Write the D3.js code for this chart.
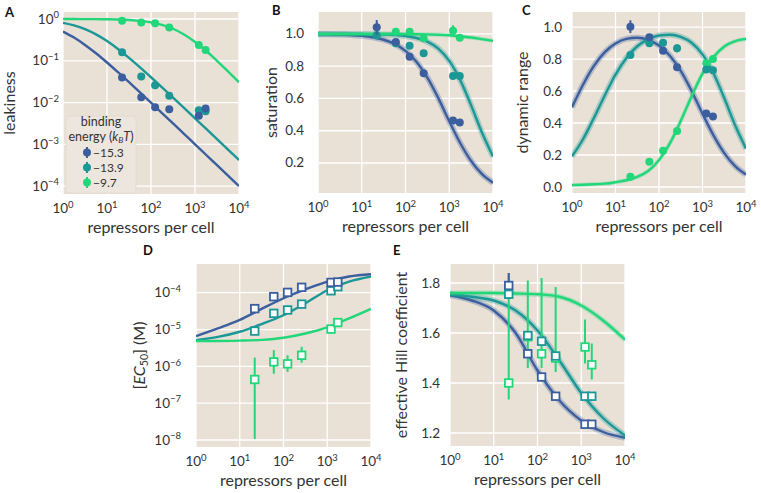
<!DOCTYPE html>
<html>
<head>
<meta charset="utf-8">
<script src="https://cdn.jsdelivr.net/npm/d3@7"></script>
<style>
body { margin: 0; background: #fff; }
text { font-family: Lato, "Open Sans", sans-serif; fill: #333; }
</style>
</head>
<body>
<svg id="fig" width="761" height="493"></svg>
<script>
// measured repressor copy numbers and binding energies
var repressors = [22, 60, 124, 260, 1220, 1740];
var energies = ["\u221215.3", "\u221213.9", "\u22129.7"];
var seriesColors = ["#3b5f9e", "#1b9896", "#22d67a"];

// x grid (log10 repressors) for the theory curves
var fineLogR = [0, 0.25, 0.5, 0.75, 1, 1.25, 1.5, 1.75, 2, 2.25, 2.5, 2.75, 3, 3.25, 3.5, 3.75, 4];
var coarseLogR = [0, 0.5, 1, 1.5, 2, 2.5, 3, 3.5, 4];

// A - leakiness
var leakBlue = [0.040, 0.0133, 0.0077, 0.0069, 0.0048, 0.0072];
var leakTeal = [0.16, 0.042, 0.026, 0.0146, 0.0065, 0.0062];
var leakGreen = [0.91, 0.83, 0.79, 0.63, 0.24, 0.18];
var leakCurveBlue = [0.5, 0.36, 0.24, 0.151, 0.0909, 0.0532, 0.0307, 0.0175, 0.0099, 0.00559, 0.00315, 0.00178, 0.000999, 0.000562, 0.000316, 0.000178, 0.0001];
var leakCurveTeal = [0.808, 0.703, 0.570, 0.428, 0.296, 0.191, 0.117, 0.0695, 0.0403, 0.0231, 0.0131, 0.00741, 0.00418, 0.00236, 0.00133, 0.000746, 0.00042];
var leakCurveGreen = [0.9987, 0.9976, 0.9955, 0.9916, 0.984, 0.971, 0.946, 0.904, 0.833, 0.725, 0.584, 0.427, 0.283, 0.174, 0.100, 0.0559, 0.0305];

// B - saturation
var satBlue = [1.041, 0.95, 0.859, 0.757, 0.463, 0.451];
var satTeal = [0.99, 0.942, 0.927, 0.88, 0.74, 0.74];
var satGreen = [0.994, 1.014, 1.014, 0.973, 1.019, 0.977];
var satErrBlue = [0.045, 0.01, 0.01, 0.01, 0.01, 0.01];
var satErrTeal = [0.01, 0.01, 0.015, 0.02, 0.01, 0.01];
var satErrGreen = [0.01, 0.01, 0.01, 0.015, 0.035, 0.02];
var satCurveBlue = [0.9988, 0.9979, 0.9963, 0.9934, 0.9884, 0.9795, 0.964, 0.938, 0.895, 0.827, 0.729, 0.602, 0.459, 0.324, 0.212, 0.131, 0.078];
var satCurveTeal = [1.0, 1.0, 0.9999, 0.9998, 0.9992, 0.9984, 0.9968, 0.9937, 0.9876, 0.975, 0.952, 0.909, 0.833, 0.715, 0.557, 0.387, 0.24];
var satCurveGreen = [1.0, 1.0, 1.0, 1.0, 1.0, 1.0, 0.9995, 0.9992, 0.999, 0.998, 0.997, 0.995, 0.992, 0.985, 0.978, 0.968, 0.957];

// C - dynamic range
var drBlue = [1.002, 0.936, 0.852, 0.748, 0.46, 0.44];
var drTeal = [0.825, 0.898, 0.902, 0.867, 0.735, 0.73];
var drGreen = [0.064, 0.158, 0.227, 0.35, 0.773, 0.8];
var drErrBlue = [0.04, 0.012, 0.01, 0.01, 0.01, 0.01];
var drErrTeal = [0.01, 0.01, 0.015, 0.025, 0.01, 0.015];
var drErrGreen = [0.01, 0.01, 0.01, 0.01, 0.015, 0.02];
var drCurveBlue = [0.499, 0.638, 0.756, 0.842, 0.897, 0.926, 0.933, 0.920, 0.885, 0.821, 0.726, 0.600, 0.458, 0.324, 0.212, 0.131, 0.078];
var drCurveTeal = [0.192, 0.297, 0.430, 0.571, 0.703, 0.807, 0.880, 0.923, 0.947, 0.952, 0.939, 0.902, 0.829, 0.713, 0.556, 0.386, 0.24];
var drCurveGreen = [0.012, 0.014, 0.017, 0.021, 0.03, 0.042, 0.063, 0.1, 0.168, 0.273, 0.413, 0.568, 0.709, 0.811, 0.878, 0.912, 0.926];

// D - EC50 (M)
var ecBlue = [3.7e-5, 7.8e-5, 1.02e-4, 1.4e-4, 1.9e-4, 1.95e-4];
var ecTeal = [9.1e-6, 2.75e-5, 3.4e-5, 4.9e-5, 1.13e-4, 1.46e-4];
var ecGreen = [4.4e-7, 1.32e-6, 1.17e-6, 2.0e-6, 1.03e-5, 1.55e-5];
var ecGreenLo = [1.07e-8, 6.3e-7, 7.1e-7, 1.26e-6, 1.0e-5, 1.5e-5];
var ecGreenHi = [1.74e-6, 2.75e-6, 2.0e-6, 3.4e-6, 1.06e-5, 1.6e-5];
var ecCurveBlue = [6.6e-6, 1.07e-5, 1.82e-5, 3.63e-5, 7.08e-5, 1.23e-4, 2.0e-4, 2.75e-4, 3.16e-4];
var ecCurveTeal = [5.13e-6, 6.3e-6, 8.7e-6, 1.41e-5, 2.45e-5, 5.13e-5, 1.17e-4, 2.0e-4, 2.75e-4];
var ecCurveGreen = [4.9e-6, 4.9e-6, 5.0e-6, 5.25e-6, 6.0e-6, 7.8e-6, 1.15e-5, 2.0e-5, 3.63e-5];

// E - effective Hill coefficient
var hillBlue = [1.79, 1.517, 1.424, 1.347, 1.235, 1.235];
var hillTeal = [1.755, 1.59, 1.567, 1.508, 1.347, 1.347];
var hillGreen = [1.40, 1.585, 1.517, 1.50, 1.544, 1.473];
var hillBlueLo = [1.74, 1.51, 1.42, 1.34, 1.23, 1.23];
var hillBlueHi = [1.84, 1.525, 1.43, 1.355, 1.24, 1.24];
var hillGreenLo = [1.334, 1.46, 1.46, 1.444, 1.478, 1.414];
var hillGreenHi = [1.84, 1.81, 1.82, 1.784, 1.654, 1.558];
var hillCurveBlue = [1.751, 1.73, 1.69, 1.60, 1.45, 1.33, 1.25, 1.204, 1.181];
var hillCurveTeal = [1.755, 1.745, 1.73, 1.69, 1.61, 1.49, 1.36, 1.26, 1.19];
var hillCurveGreen = [1.76, 1.76, 1.76, 1.758, 1.755, 1.745, 1.71, 1.65, 1.573];

var svg = d3.select("#fig");
var bg = "#e9e0d6";
var clipId = 0;

function powLabel(sel, exp) {
	sel.append("tspan").text("10");
	sel.append("tspan").attr("dy", "-0.55em").attr("font-size", "9.5px").text(exp < 0 ? "\u2212" + (-exp) : exp);
}

// builds one panel: background, grid, tick labels, axis titles
function panel(o) {
	var g = svg.append("g");
	var x = d3.scaleLog().domain([1, 1e4]).range([o.x0, o.x1]);
	var y = (o.ylog ? d3.scaleLog() : d3.scaleLinear()).domain(o.ydom).range([o.y1, o.y0]);

	g.append("rect")
		.attr("x", o.x0).attr("y", o.y0)
		.attr("width", o.x1 - o.x0).attr("height", o.y1 - o.y0)
		.attr("fill", bg);

	var xt = [1, 10, 100, 1000, 10000];
	g.selectAll(".gx").data(xt).enter().append("line")
		.attr("x1", x).attr("x2", x)
		.attr("y1", o.y0).attr("y2", o.y1)
		.attr("stroke", "#fff").attr("stroke-width", 1.3);
	g.selectAll(".gy").data(o.yticks).enter().append("line")
		.attr("y1", y).attr("y2", y)
		.attr("x1", o.x0).attr("x2", o.x1)
		.attr("stroke", "#fff").attr("stroke-width", 1.3);

	// x tick labels
	xt.forEach(function(v, i) {
		var t = g.append("text")
			.attr("x", x(v)).attr("y", o.y1 + 19)
			.attr("text-anchor", "middle").attr("font-size", "13.5px");
		powLabel(t, i);
	});
	// y tick labels
	o.yticks.forEach(function(v) {
		var t = g.append("text")
			.attr("x", o.tickX).attr("y", y(v) + 4.5)
			.attr("text-anchor", "end").attr("font-size", "13.5px");
		if (o.ylog) powLabel(t, Math.round(Math.log10(v)));
		else t.text(d3.format(".1f")(v));
	});

	g.append("text")
		.attr("x", (o.x0 + o.x1) / 2).attr("y", o.y1 + 38.5)
		.attr("text-anchor", "middle").attr("font-size", "16px")
		.text("repressors per cell");

	var yl = g.append("text")
		.attr("transform", "translate(" + o.labX + "," + ((o.y0 + o.y1) / 2) + ") rotate(-90)")
		.attr("text-anchor", "middle").attr("font-size", "16px");
	if (o.ylabelParts) o.ylabelParts(yl);
	else yl.text(o.ylabel);

	g.append("text")
		.attr("x", o.letterX).attr("y", o.letterY)
		.attr("font-family", "'Liberation Sans', Arial, sans-serif")
		.attr("font-weight", "bold").attr("font-size", "13px")
		.style("fill", "#111")
		.text(o.letter);

	clipId++;
	g.append("clipPath").attr("id", "clip" + clipId)
		.append("rect").attr("x", o.x0).attr("y", o.y0)
		.attr("width", o.x1 - o.x0).attr("height", o.y1 - o.y0);
	var plot = g.append("g").attr("clip-path", "url(#clip" + clipId + ")");

	return { g: g, plot: plot, x: x, y: y };
}

function curve(p, logR, vals, color, band) {
	var pts = logR.map(function(l, i) { return [Math.pow(10, l), vals[i]]; });
	var line = d3.line()
		.x(function(d) { return p.x(d[0]); })
		.y(function(d) { return p.y(d[1]); })
		.curve(d3.curveMonotoneX);
	if (band) {
		p.plot.append("path").attr("d", line(pts))
			.attr("fill", "none").attr("stroke", color)
			.attr("stroke-opacity", 0.3).attr("stroke-width", band);
	}
	p.plot.append("path").attr("d", line(pts))
		.attr("fill", "none").attr("stroke", color).attr("stroke-width", 2.4);
}

function dots(p, vals, lo, hi, color) {
	repressors.forEach(function(r, i) {
		if (lo) {
			p.g.append("line")
				.attr("x1", p.x(r)).attr("x2", p.x(r))
				.attr("y1", p.y(lo[i])).attr("y2", p.y(hi[i]))
				.attr("stroke", color).attr("stroke-width", 2);
		}
		p.g.append("circle")
			.attr("cx", p.x(r)).attr("cy", p.y(vals[i])).attr("r", 4)
			.attr("fill", color);
	});
}

function squares(p, vals, lo, hi, color) {
	repressors.forEach(function(r, i) {
		if (lo) {
			p.g.append("line")
				.attr("x1", p.x(r)).attr("x2", p.x(r))
				.attr("y1", p.y(lo[i])).attr("y2", p.y(hi[i]))
				.attr("stroke", color).attr("stroke-width", 2);
		}
	});
	repressors.forEach(function(r, i) {
		p.g.append("rect")
			.attr("x", p.x(r) - 3.8).attr("y", p.y(vals[i]) - 3.8)
			.attr("width", 7.6).attr("height", 7.6)
			.attr("fill", "#fff").attr("stroke", color).attr("stroke-width", 1.8);
	});
}

function errs(vals, e, sign) {
	return vals.map(function(v, i) { return v + sign * e[i]; });
}

// ---------- A ----------
var pA = panel({ x0: 63, x1: 239, y0: 12, y1: 194, ylog: true,
	ydom: [Math.pow(10, -4.19), Math.pow(10, 0.168)],
	yticks: [1e-4, 1e-3, 1e-2, 1e-1, 1], tickX: 59, labX: 15,
	ylabel: "leakiness", letter: "A", letterX: 5, letterY: 17 });
curve(pA, fineLogR, leakCurveBlue, seriesColors[0]);
curve(pA, fineLogR, leakCurveTeal, seriesColors[1]);
curve(pA, fineLogR, leakCurveGreen, seriesColors[2]);
dots(pA, leakGreen, null, null, seriesColors[2]);
dots(pA, leakTeal, null, null, seriesColors[1]);
dots(pA, leakBlue, null, null, seriesColors[0]);

// legend
var lg = pA.g.append("g");
lg.append("rect").attr("x", 66).attr("y", 116).attr("width", 70).attr("height", 77)
	.attr("rx", 3).attr("fill", "#ede6de").attr("stroke", "#e2d9ce").attr("stroke-width", 0.8);
lg.append("text").attr("x", 101).attr("y", 126).attr("text-anchor", "middle")
	.attr("font-size", "12.5px").text("binding");
var et = lg.append("text").attr("x", 101).attr("y", 141.3).attr("text-anchor", "middle")
	.attr("font-size", "12.5px");
et.append("tspan").text("energy (");
et.append("tspan").attr("font-style", "italic").text("k");
et.append("tspan").attr("font-size", "8.5px").attr("dy", "2").attr("font-style", "italic").text("B");
et.append("tspan").attr("dy", "-2").attr("font-style", "italic").text("T");
et.append("tspan").text(")");
energies.forEach(function(e, i) {
	var cy = 152.5 + i * 15;
	lg.append("line").attr("x1", 87).attr("x2", 87).attr("y1", cy - 5.5).attr("y2", cy + 5.5)
		.attr("stroke", seriesColors[i]).attr("stroke-width", 2);
	lg.append("circle").attr("cx", 87).attr("cy", cy).attr("r", 4).attr("fill", seriesColors[i]);
	lg.append("text").attr("x", 93).attr("y", cy + 4.3).attr("font-size", "12px").text(e);
});

// ---------- B ----------
var pB = panel({ x0: 318, x1: 493, y0: 12, y1: 193, ydom: [0.014, 1.136],
	yticks: [0.2, 0.4, 0.6, 0.8, 1.0], tickX: 304, labX: 277,
	ylabel: "saturation", letter: "B", letterX: 272, letterY: 15 });
curve(pB, fineLogR, satCurveBlue, seriesColors[0], 6);
curve(pB, fineLogR, satCurveTeal, seriesColors[1], 6);
curve(pB, fineLogR, satCurveGreen, seriesColors[2], 4);
dots(pB, satGreen, errs(satGreen, satErrGreen, -1), errs(satGreen, satErrGreen, 1), seriesColors[2]);
dots(pB, satTeal, errs(satTeal, satErrTeal, -1), errs(satTeal, satErrTeal, 1), seriesColors[1]);
dots(pB, satBlue, errs(satBlue, satErrBlue, -1), errs(satBlue, satErrBlue, 1), seriesColors[0]);

// ---------- C ----------
var pC = panel({ x0: 572, x1: 746, y0: 12, y1: 193, ydom: [-0.0375, 1.094],
	yticks: [0, 0.2, 0.4, 0.6, 0.8, 1.0], tickX: 562, labX: 528,
	ylabel: "dynamic range", letter: "C", letterX: 522, letterY: 15 });
curve(pC, fineLogR, drCurveBlue, seriesColors[0], 6);
curve(pC, fineLogR, drCurveTeal, seriesColors[1], 6);
curve(pC, fineLogR, drCurveGreen, seriesColors[2], 4);
dots(pC, drGreen, errs(drGreen, drErrGreen, -1), errs(drGreen, drErrGreen, 1), seriesColors[2]);
dots(pC, drTeal, errs(drTeal, drErrTeal, -1), errs(drTeal, drErrTeal, 1), seriesColors[1]);
dots(pC, drBlue, errs(drBlue, drErrBlue, -1), errs(drBlue, drErrBlue, 1), seriesColors[0]);

// ---------- D ----------
var pD = panel({ x0: 196, x1: 371, y0: 264, y1: 447, ylog: true,
	ydom: [Math.pow(10, -8.19), Math.pow(10, -3.22)],
	yticks: [1e-8, 1e-7, 1e-6, 1e-5, 1e-4], tickX: 181, labX: 145,
	letter: "D", letterX: 143, letterY: 255,
	ylabelParts: function(t) {
		t.append("tspan").text("[");
		t.append("tspan").attr("font-style", "italic").text("EC");
		t.append("tspan").attr("font-size", "10.5px").attr("dy", "3").text("50");
		t.append("tspan").attr("dy", "-3").text("] (M)");
	} });
curve(pD, coarseLogR, ecCurveBlue, seriesColors[0]);
curve(pD, coarseLogR, ecCurveTeal, seriesColors[1]);
curve(pD, coarseLogR, ecCurveGreen, seriesColors[2]);
squares(pD, ecGreen, ecGreenLo, ecGreenHi, seriesColors[2]);
squares(pD, ecTeal, null, null, seriesColors[1]);
squares(pD, ecBlue, null, null, seriesColors[0]);

// ---------- E ----------
var pE = panel({ x0: 450, x1: 625, y0: 264, y1: 446, ydom: [1.148, 1.876],
	yticks: [1.2, 1.4, 1.6, 1.8], tickX: 440, labX: 407,
	ylabel: "effective Hill coefficient", letter: "E", letterX: 393, letterY: 255 });
curve(pE, coarseLogR, hillCurveBlue, seriesColors[0], 6);
curve(pE, coarseLogR, hillCurveTeal, seriesColors[1], 6);
curve(pE, coarseLogR, hillCurveGreen, seriesColors[2], 5);
squares(pE, hillGreen, hillGreenLo, hillGreenHi, seriesColors[2]);
squares(pE, hillBlue, hillBlueLo, hillBlueHi, seriesColors[0]);
squares(pE, hillTeal, null, null, seriesColors[1]);
</script>
</body>
</html>
